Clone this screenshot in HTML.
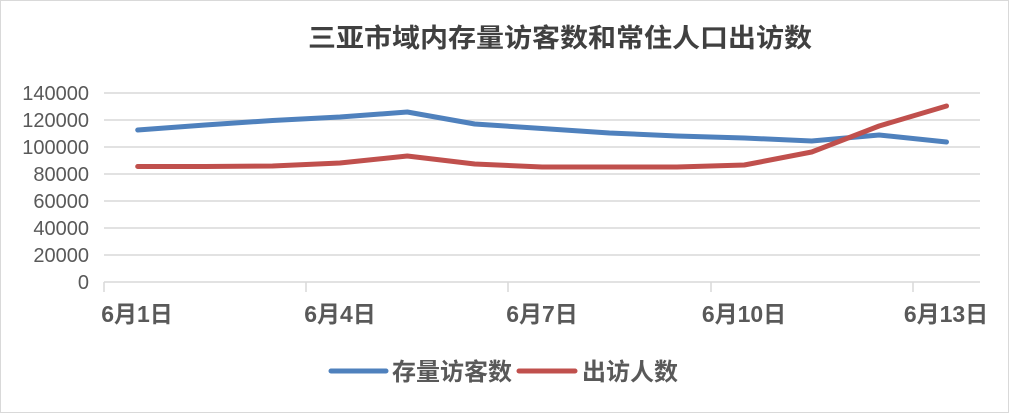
<!DOCTYPE html>
<html><head><meta charset="utf-8"><style>
body{margin:0;background:#fff;}
svg text{font-family:"Liberation Sans","Noto Sans CJK SC",sans-serif;}
</style></head><body>
<svg width="1009" height="413" viewBox="0 0 1009 413" xmlns="http://www.w3.org/2000/svg">
<rect x="0.5" y="0.5" width="1008" height="412" fill="#fff" stroke="#d9d9d9"/>
<text x="308" y="47" font-size="26" font-weight="bold" fill="#404040" textLength="504" lengthAdjust="spacingAndGlyphs">三亚市域内存量访客数和常住人口出访数</text>
<g stroke="#d9d9d9" stroke-width="1.5">
<line x1="104" y1="93" x2="980" y2="93"/><line x1="104" y1="120" x2="980" y2="120"/>
<line x1="104" y1="147" x2="980" y2="147"/><line x1="104" y1="174" x2="980" y2="174"/>
<line x1="104" y1="201" x2="980" y2="201"/><line x1="104" y1="228" x2="980" y2="228"/>
<line x1="104" y1="255" x2="980" y2="255"/><line x1="104" y1="282" x2="980" y2="282"/>
<line x1="104" y1="282" x2="104" y2="292"/><line x1="306" y1="282" x2="306" y2="292"/>
<line x1="508" y1="282" x2="508" y2="292"/><line x1="711" y1="282" x2="711" y2="292"/>
<line x1="913" y1="282" x2="913" y2="292"/>
</g>
<g font-size="20" fill="#595959" text-anchor="end">
<text x="89" y="100">140000</text><text x="89" y="127">120000</text><text x="89" y="154">100000</text>
<text x="89" y="181">80000</text><text x="89" y="208">60000</text><text x="89" y="235">40000</text>
<text x="89" y="262">20000</text><text x="89" y="289">0</text>
</g>
<g font-size="23" font-weight="bold" fill="#595959" text-anchor="middle">
<text x="137" y="322">6月1日</text><text x="340" y="322">6月4日</text><text x="542" y="322">6月7日</text>
<text x="744" y="322">6月10日</text><text x="946" y="322">6月13日</text>
</g>
<polyline fill="none" stroke="#4f81bd" stroke-width="5" stroke-linejoin="round" stroke-linecap="round"
points="137.7,130 205.1,125 272.5,120.5 339.9,117 407.3,112 474.7,124 542.1,128.5 609.5,133 676.9,136 744.3,138 811.7,141 879.1,135 946.5,142"/>
<polyline fill="none" stroke="#c0504d" stroke-width="5" stroke-linejoin="round" stroke-linecap="round"
points="137.7,166.5 205.1,166.5 272.5,166 339.9,163 407.3,156 474.7,164 542.1,167 609.5,167 676.9,167 744.3,165 811.7,152 879.1,126 946.5,106"/>
<line x1="331" y1="371" x2="386" y2="371" stroke="#4f81bd" stroke-width="5" stroke-linecap="round"/>
<text x="392" y="380" font-size="24" font-weight="bold" fill="#595959" textLength="120" lengthAdjust="spacingAndGlyphs">存量访客数</text>
<line x1="519" y1="371" x2="575" y2="371" stroke="#c0504d" stroke-width="5" stroke-linecap="round"/>
<text x="582" y="380" font-size="24" font-weight="bold" fill="#595959" textLength="96" lengthAdjust="spacingAndGlyphs">出访人数</text>
</svg>
</body></html>
